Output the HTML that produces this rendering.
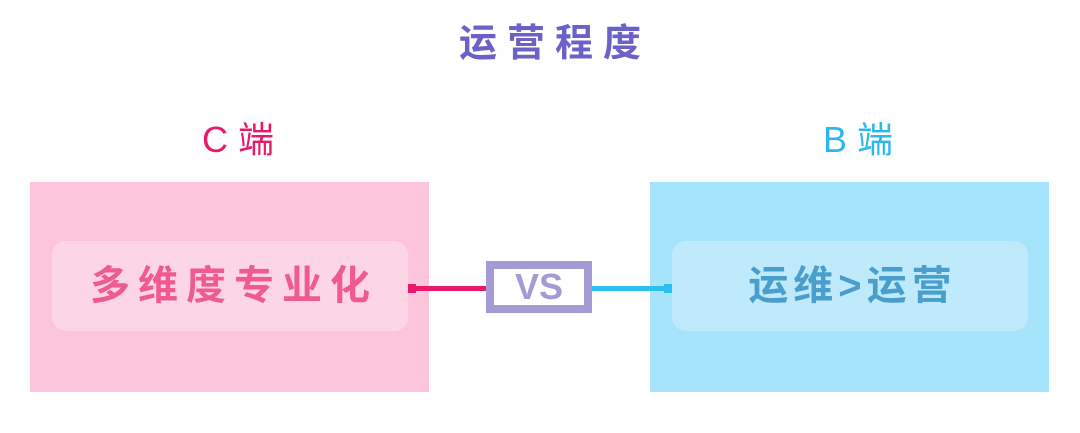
<!DOCTYPE html>
<html><head><meta charset="utf-8"><style>
body{margin:0;width:1080px;height:433px;background:#fff;position:relative;overflow:hidden;font-family:"Liberation Sans","Noto Sans CJK SC",sans-serif}
div{position:absolute;box-sizing:border-box}
.t{white-space:nowrap;text-align:center;font-weight:bold}
</style></head><body>
<div class="t" style="left:400px;width:300px;top:21px;font-size:38px;line-height:46px;letter-spacing:10px;color:#6a62c8;padding-left:10px">运营程度</div>
<div class="t" style="left:138px;width:200px;top:118px;font-size:36px;line-height:44px;color:#e8196b;font-weight:normal">C 端</div>
<div class="t" style="left:758px;width:200px;top:118px;font-size:36px;line-height:44px;color:#2bb8ef;font-weight:normal">B 端</div>
<div style="left:30px;top:182px;width:399px;height:210px;background:#fdc5dc"></div>
<div style="left:52px;top:241px;width:356px;height:90px;border-radius:14px;background:#fdd6e6"></div>
<div class="t" style="left:52px;top:241px;width:356px;line-height:90px;font-size:40px;letter-spacing:8px;color:#ef5a90;padding-left:8px">多维度专业化</div>
<div style="left:650px;top:182px;width:399px;height:210px;background:#a5e4fa"></div>
<div style="left:672px;top:241px;width:356px;height:90px;border-radius:14px;background:#bfeafb"></div>
<div class="t" style="left:672px;top:241px;width:356px;line-height:90px;font-size:40px;letter-spacing:5px;color:#4a9ecb;padding-left:5px">运维&gt;运营</div>
<div style="left:410px;top:286px;width:78px;height:5px;background:#e8196b"></div>
<div style="left:408px;top:284px;width:8px;height:9px;background:#e8196b"></div>
<div style="left:590px;top:286px;width:78px;height:5px;background:#2bc0f0"></div>
<div style="left:664px;top:284px;width:8px;height:9px;background:#2bc0f0"></div>
<div style="left:486px;top:261px;width:106px;height:52px;border:8px solid #a29bd6;background:#fff"></div>
<div class="t" style="left:486px;top:261px;width:106px;line-height:52px;font-size:36px;color:#a29bd6;font-weight:900">VS</div>
</body></html>
